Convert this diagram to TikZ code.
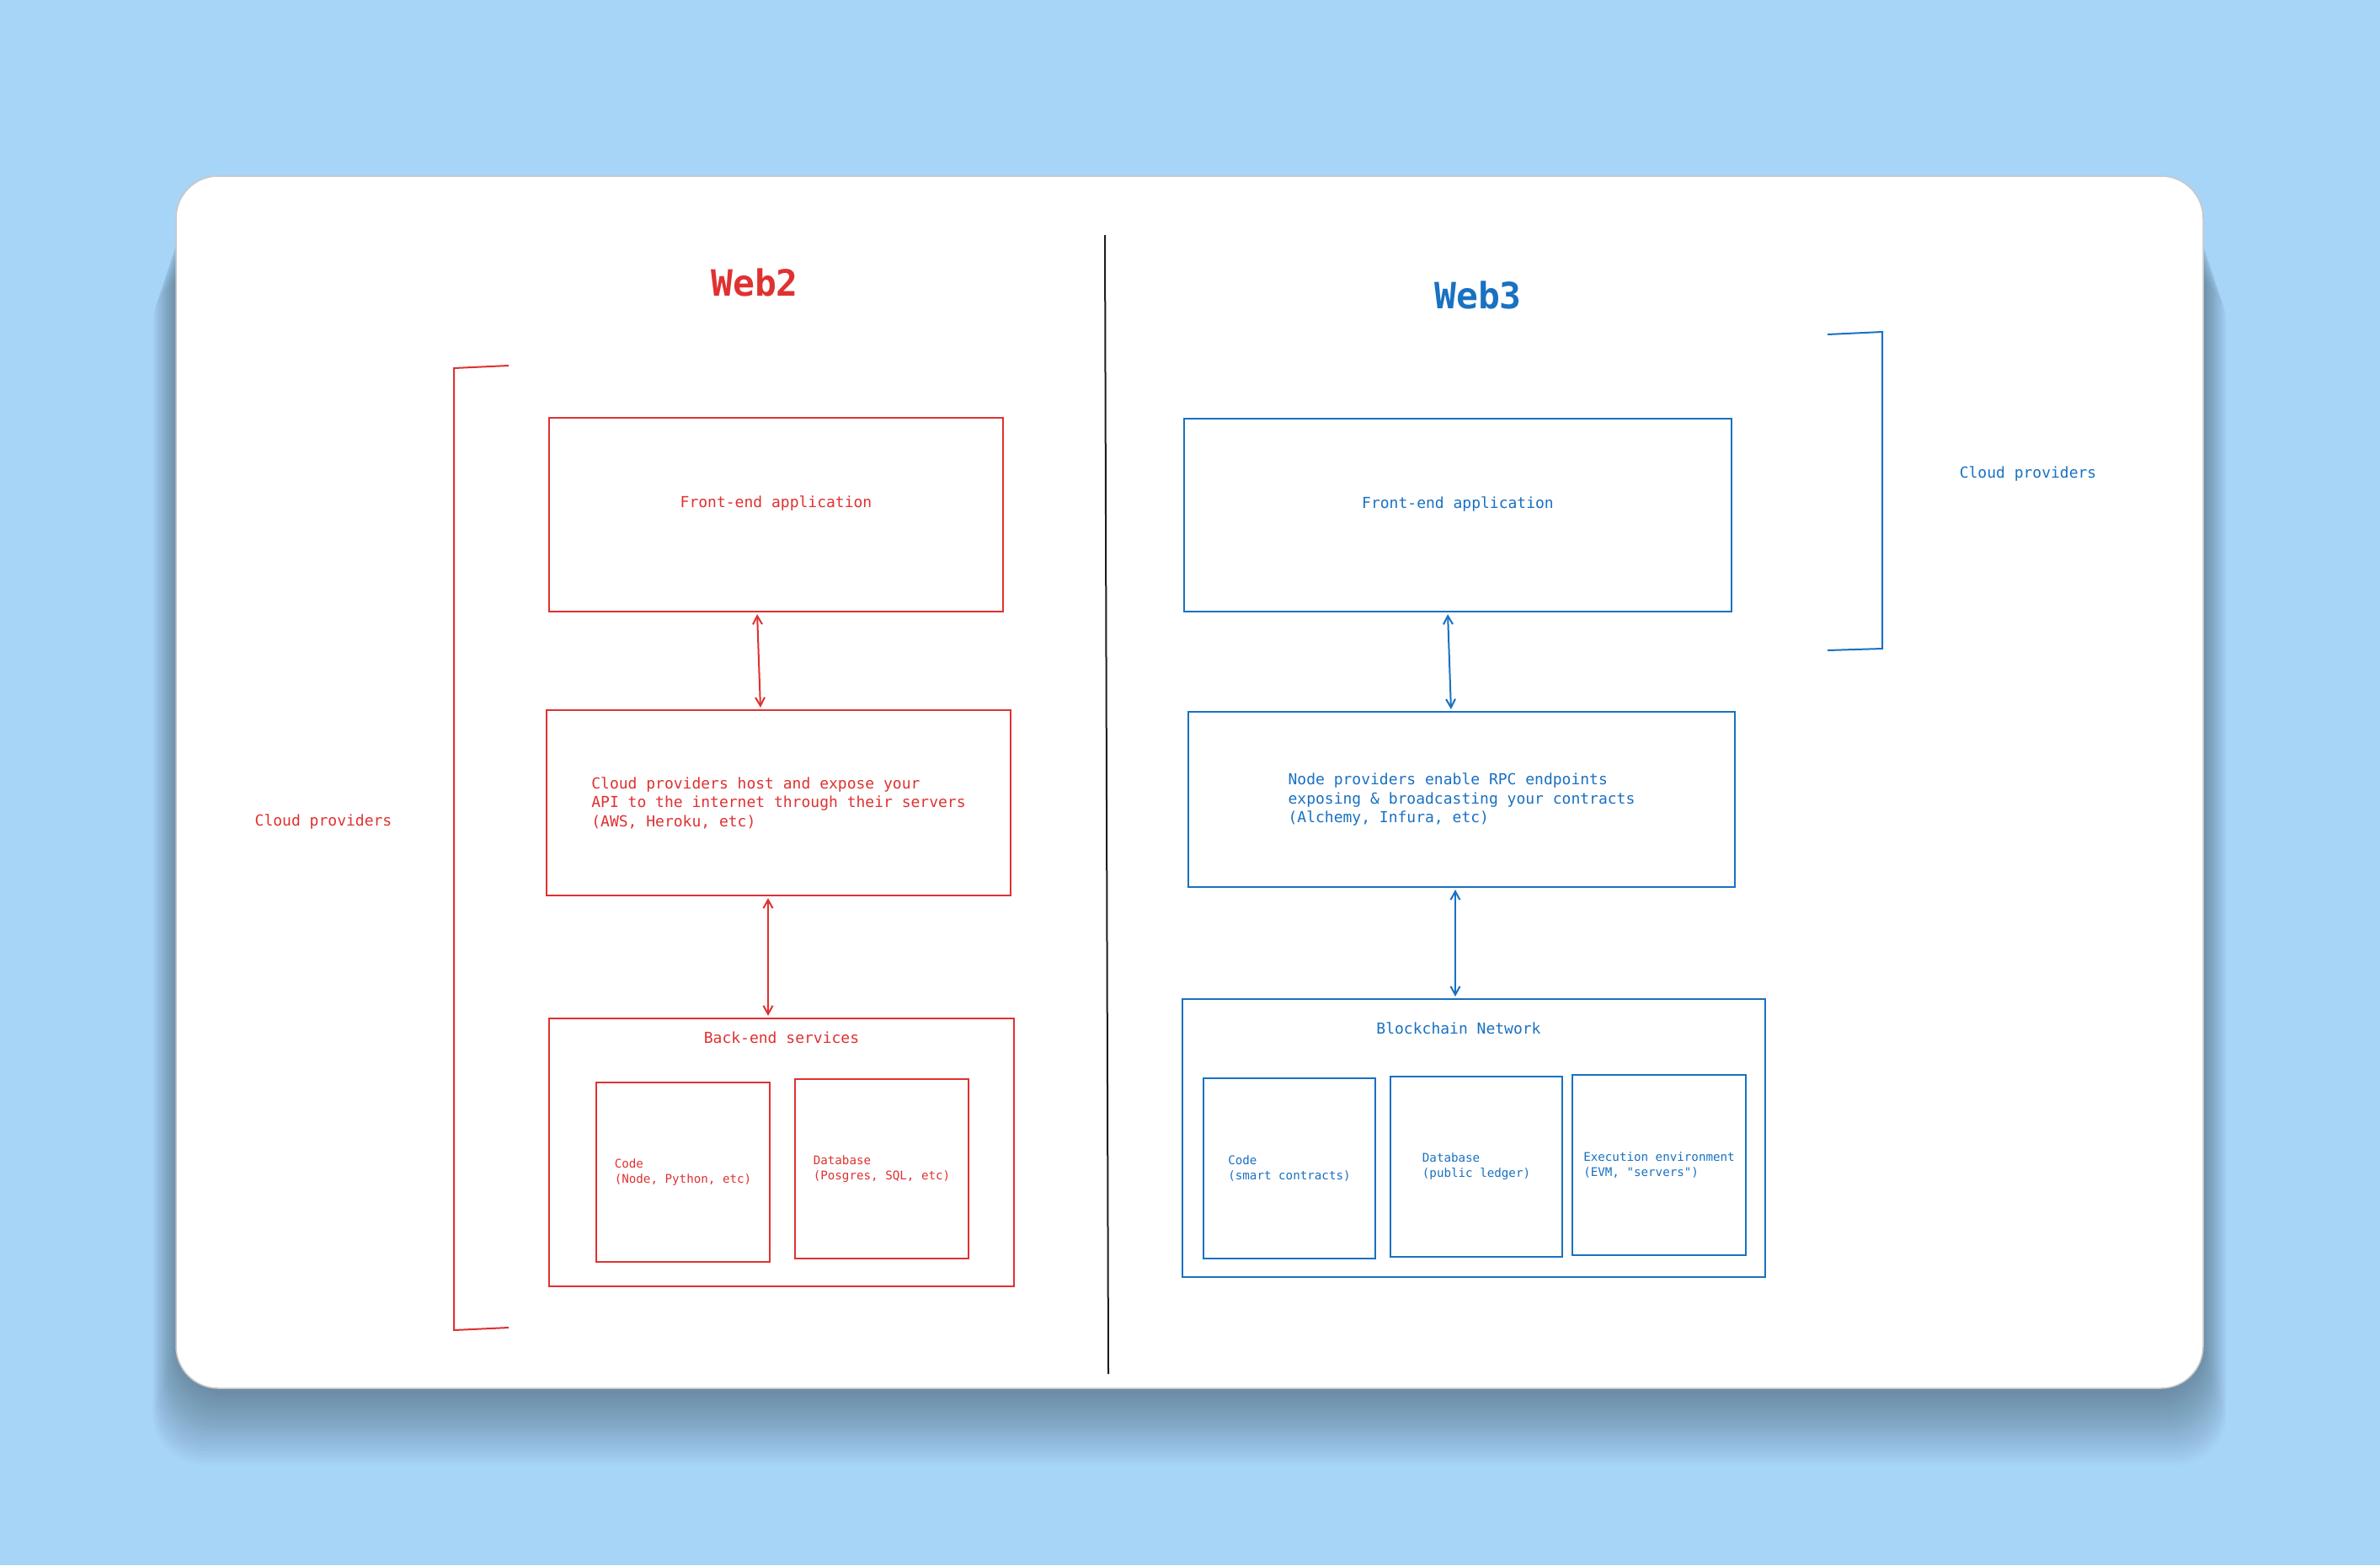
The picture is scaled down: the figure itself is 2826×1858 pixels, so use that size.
\documentclass[tikz,border=0pt]{standalone}
\usepackage{fontspec}
\setmonofont{DejaVu Sans Mono}
\usetikzlibrary{arrows.meta,positioning}
\definecolor{webred}{HTML}{E03131}
\definecolor{webblue}{HTML}{1971C2}
\definecolor{sky}{HTML}{A7D5F8}
\definecolor{ink}{HTML}{1E1E1E}

\begin{document}
\begin{tikzpicture}[x=1pt, y=-1pt,
  box/.style={draw, line width=2.2pt, inner sep=0pt, align=left, font=\ttfamily\fontsize{18}{22.5}\selectfont},
  smallbox/.style={box, font=\ttfamily\fontsize{14.2}{18}\selectfont},
  lbl/.style={inner sep=0pt, font=\ttfamily\fontsize{18}{22.5}\selectfont},
  head/.style={inner sep=0pt, font=\ttfamily\bfseries\fontsize{43}{50}\selectfont},
  link/.style={line width=2pt, {Straight Barb[length=10pt,width=11pt]}-{Straight Barb[length=10pt,width=11pt]}, shorten <=2pt, shorten >=2pt}]

\useasboundingbox (0,0) rectangle (2826,1858);
\fill [sky] (0,0) rectangle (2826,1858);
\foreach \r in {0,4,...,84}
  \fill [black, opacity=0.016, rounded corners=60pt] ({209-\r/3},{240+\r}) rectangle ({2616+\r/3},{1655+\r});
\fill [white, draw=black!22, line width=1.5pt, rounded corners=50pt] (209,209) rectangle (2616,1648);

\draw [ink, line width=2pt] (1312,279) -- (1316,1631);

\node[head, webred] (web2) at (896,335) {Web2};
\node[head, webblue] (web3) at (1755,350) {Web3};

\draw [webred, line width=2pt] (604,434) -- (539,437) -- (539,1579) -- (604,1576);
\node[lbl, webred] (cloud2l) at (384,975) {Cloud providers};

\node[box, webred, minimum width=539pt, minimum height=230pt, text depth=30pt] (fe2) at (921.5,611) {Front-end application};
\node[box, webred, minimum width=551pt, minimum height=220pt] (cloud2) at (924.5,953) {Cloud providers host and expose your\\API to the internet through their servers\\(AWS, Heroku, etc)};
\node[box, webred, minimum width=552pt, minimum height=318pt] (back2) at (928,1368) {};
\node[lbl, webred, below=17pt of back2.north] (back2t) {Back-end services};
\node[smallbox, webred, minimum width=206pt, minimum height=213pt] (code2) at (811,1391.5) {Code\\(Node, Python, etc)};
\node[smallbox, webred, minimum width=206pt, minimum height=213pt] (db2) at (1047,1387.5) {Database\\(Posgres, SQL, etc)};

\draw [link, webred] ([xshift=-22.5pt]fe2.south) -- ([xshift=-21.5pt]cloud2.north);
\draw [link, webred] ([xshift=-12.5pt]cloud2.south) -- ([xshift=-16pt]back2.north);

\draw [webblue, line width=2pt] (2170,397) -- (2235,394) -- (2235,770) -- (2170,772);
\node[lbl, webblue] (cloud3l) at (2408,562) {Cloud providers};

\node[box, webblue, minimum width=650pt, minimum height=229pt, text depth=30pt] (fe3) at (1731,611.5) {Front-end application};
\node[box, webblue, minimum width=649pt, minimum height=208pt] (node3) at (1735.5,949) {Node providers enable RPC endpoints\\exposing \& broadcasting your contracts\\(Alchemy, Infura, etc)};
\node[box, webblue, minimum width=692pt, minimum height=330pt] (chain3) at (1750,1351) {};
\node[lbl, webblue, below=29pt of chain3.north, xshift=-18pt] (chain3t) {Blockchain Network};
\node[smallbox, webblue, minimum width=204pt, minimum height=214pt] (code3) at (1531,1387) {Code\\(smart contracts)};
\node[smallbox, webblue, minimum width=204pt, minimum height=214pt] (db3) at (1753,1385) {Database\\(public ledger)};
\node[smallbox, webblue, minimum width=206pt, minimum height=214pt] (exec3) at (1970,1383) {Execution environment\\(EVM, "servers")};

\draw [link, webblue] ([xshift=-12pt]fe3.south) -- ([xshift=-12.5pt]node3.north);
\draw [link, webblue] ([xshift=-7.5pt]node3.south) -- ([xshift=-22pt]chain3.north);

\end{tikzpicture}
\end{document}
